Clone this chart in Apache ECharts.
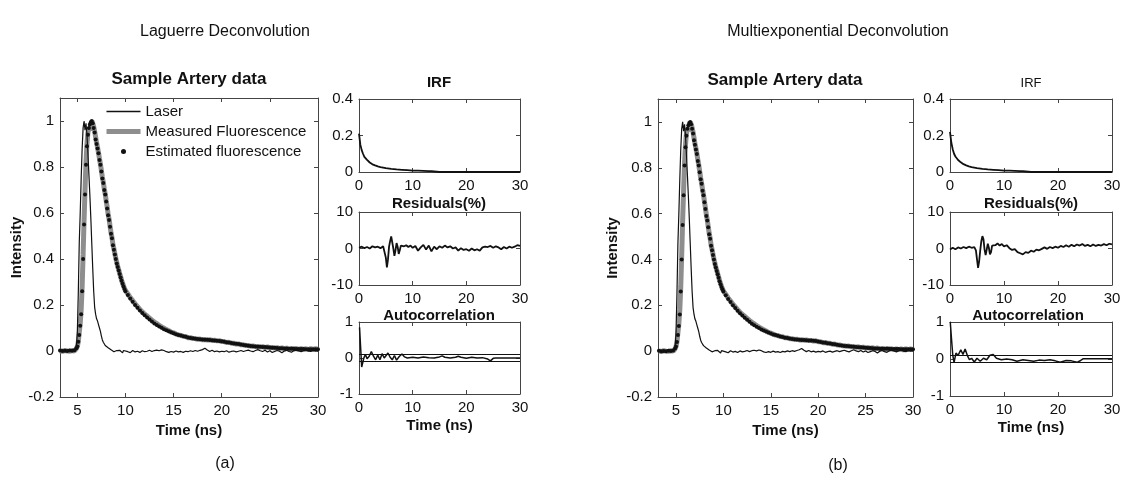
<!DOCTYPE html>
<html>
<head>
<meta charset="utf-8">
<script src="https://cdn.jsdelivr.net/npm/echarts@6/dist/echarts.min.js"></script>
<style>
  html, body { margin: 0; padding: 0; background: #fff; }
  #chart { width: 1124px; height: 477px; }
</style>
</head>
<body>
<div id="chart"></div>
<script>
// sample times (ns) of the main decay plots
const time = [
  3.2, 3.45, 3.7, 3.95, 4.2, 4.45, 4.7, 4.9,
  5.0, 5.1, 5.2, 5.3, 5.4, 5.5, 5.6, 5.7, 5.8, 5.9,
  6.0, 6.1, 6.2, 6.3, 6.4, 6.5, 6.6, 6.7, 6.8, 6.9,
  7.0, 7.1, 7.2, 7.3, 7.4, 7.5, 7.6, 7.7, 7.8, 7.9,
  8.0, 8.1, 8.2, 8.3, 8.4, 8.5, 8.6, 8.7, 8.8, 8.9,
  9.0, 9.1, 9.2, 9.3, 9.4, 9.5, 9.6, 9.7, 9.8, 9.9,
  10.0,
  10.25, 10.5, 10.75, 11.0, 11.25, 11.5, 11.75, 12.0,
  12.25, 12.5, 12.75, 13.0, 13.25, 13.5, 13.75, 14.0,
  14.25, 14.5, 14.75, 15.0, 15.25, 15.5, 15.75, 16.0,
  16.25, 16.5, 16.75, 17.0, 17.25, 17.5, 17.75, 18.0,
  18.25, 18.5, 18.75, 19.0, 19.25, 19.5, 19.75, 20.0,
  20.25, 20.5, 20.75, 21.0, 21.25, 21.5, 21.75, 22.0,
  22.25, 22.5, 22.75, 23.0, 23.25, 23.5, 23.75, 24.0,
  24.25, 24.5, 24.75, 25.0, 25.25, 25.5, 25.75, 26.0,
  26.25, 26.5, 26.75, 27.0, 27.25, 27.5, 27.75, 28.0,
  28.25, 28.5, 28.75, 29.0, 29.25, 29.5, 29.75, 30.0
];
const laser = [
  0, 0.003, -0.002, 0.002, -0.001, 0.002, 0.001, 0.015,
  0.08, 0.25, 0.47, 0.6, 0.75, 0.88, 0.97, 1.0, 0.96, 0.99,
  0.94, 0.86, 0.77, 0.68, 0.58, 0.47, 0.36, 0.26, 0.19, 0.16,
  0.14, 0.13, 0.115, 0.1, 0.085, 0.065, 0.048, 0.038, 0.03, 0.024,
  0.019, 0.016, 0.014, 0.012, 0.008, 0.005, 0.002, 0.0, -0.003, 0.001,
  -0.004, 0.002, -0.006, -0.002, 0.003, -0.005, -0.001, -0.008, 0.002, -0.004,
  0.001,
  -0.003, -0.007, 0.002, -0.004, -0.001, -0.006, 0.001, -0.003,
  -0.001, 0.003, -0.002, 0.002, 0.004, 0.001, 0.005, 0.002,
  -0.003, -0.006, -0.002, -0.005, 0.0, -0.004, -0.002, -0.006,
  -0.001, -0.003, 0.001, -0.002, 0.002, -0.001, 0.003, 0.006,
  0.012, 0.004, -0.002, 0.003, -0.003, 0.0, -0.004, -0.001,
  -0.003, 0.001, -0.005, -0.002, 0.0, -0.004, -0.001, 0.002,
  -0.002, 0.001, 0.004, 0.0, -0.003, 0.002, 0.006, 0.001,
  -0.002, 0.003, -0.004, 0.001, -0.006, -0.002, 0.002, -0.001,
  -0.008, 0.0, 0.003, -0.002, -0.005, 0.002, 0.004, 0.001,
  -0.003, 0.002, 0.005, 0.0, -0.002, 0.003, 0.001, 0.002
];
const measured = [
  0.001, -0.002, 0.002, 0.0, -0.001, 0.002, 0.0, 0.01,
  0.02, 0.04, 0.08, 0.12, 0.18, 0.28, 0.42, 0.57, 0.7, 0.82,
  0.9, 0.95, 0.97, 0.96, 0.98, 1.0, 0.99, 0.975, 0.955, 0.93,
  0.905, 0.885, 0.862, 0.836, 0.812, 0.784, 0.756, 0.733, 0.705, 0.683,
  0.652, 0.626, 0.595, 0.573, 0.543, 0.514, 0.493, 0.463, 0.444, 0.423,
  0.402, 0.384, 0.366, 0.353, 0.337, 0.323, 0.307, 0.295, 0.283, 0.272,
  0.263,
  0.248, 0.232, 0.219, 0.205, 0.193, 0.181, 0.17, 0.16,
  0.152, 0.143, 0.134, 0.126, 0.119, 0.112, 0.105, 0.099,
  0.093, 0.088, 0.082, 0.079, 0.074, 0.07, 0.068, 0.064,
  0.063, 0.058, 0.058, 0.054, 0.054, 0.051, 0.052, 0.049,
  0.05, 0.048, 0.049, 0.046, 0.047, 0.044, 0.045, 0.041,
  0.041, 0.037, 0.038, 0.034, 0.034, 0.03, 0.031, 0.027,
  0.027, 0.024, 0.024, 0.021, 0.022, 0.019, 0.02, 0.017,
  0.019, 0.015, 0.018, 0.013, 0.016, 0.012, 0.015, 0.01,
  0.014, 0.008, 0.013, 0.007, 0.012, 0.008, 0.011, 0.006,
  0.011, 0.006, 0.01, 0.005, 0.011, 0.006, 0.01, 0.007
];
const estimated = [
  0.002, 0, 0.001, 0, 0.002, 0.001, 0.003, 0.012,
  0.02, 0.04, 0.07, 0.11, 0.16, 0.26, 0.4, 0.55, 0.68, 0.81,
  0.89, 0.94, 0.97, 0.985, 0.995, 1.0, 0.99, 0.97, 0.95, 0.92,
  0.9, 0.88, 0.86, 0.83, 0.81, 0.78, 0.75, 0.73, 0.7, 0.68,
  0.65, 0.62, 0.59, 0.57, 0.54, 0.51, 0.49, 0.46, 0.44, 0.42,
  0.4, 0.38, 0.365, 0.35, 0.335, 0.32, 0.305, 0.292, 0.28, 0.27,
  0.26,
  0.244, 0.228, 0.214, 0.2, 0.188, 0.176, 0.165, 0.155,
  0.146, 0.137, 0.128, 0.12, 0.113, 0.107, 0.101, 0.095,
  0.09, 0.086, 0.081, 0.077, 0.073, 0.07, 0.067, 0.064,
  0.062, 0.059, 0.057, 0.055, 0.053, 0.052, 0.051, 0.05,
  0.049, 0.049, 0.048, 0.047, 0.046, 0.045, 0.044, 0.042,
  0.04, 0.038, 0.037, 0.035, 0.033, 0.031, 0.03, 0.028,
  0.026, 0.025, 0.023, 0.022, 0.021, 0.02, 0.019, 0.018,
  0.017, 0.017, 0.016, 0.015, 0.014, 0.014, 0.013, 0.012,
  0.012, 0.011, 0.011, 0.01, 0.01, 0.01, 0.009, 0.009,
  0.009, 0.009, 0.008, 0.008, 0.008, 0.008, 0.008, 0.008
];

// IRF panels
const irfTime = [0, 0.25, 0.5, 0.75, 1, 1.5, 2, 2.5, 3, 3.5, 4, 5, 6, 7, 8, 9, 10, 11, 12, 13, 13.5, 13.6, 15, 20, 25, 30];
const irfA = [0.21, 0.15, 0.12, 0.1, 0.083, 0.066, 0.052, 0.042, 0.036, 0.031, 0.027, 0.021, 0.017, 0.014, 0.012, 0.01, 0.008, 0.007, 0.006, 0.005, 0.005, 0, 0, 0, 0, 0];
const irfB = [0.22, 0.16, 0.125, 0.1, 0.085, 0.066, 0.053, 0.043, 0.036, 0.031, 0.027, 0.021, 0.017, 0.014, 0.012, 0.01, 0.008, 0.007, 0.006, 0.005, 0.005, 0, 0, 0, 0, 0];

// residuals (%)
const residTime = [
  0, 0.5, 1, 1.5, 2, 2.5, 3, 3.5, 4, 4.5, 4.8,
  5.0, 5.2, 5.4, 5.6, 5.8, 6.0, 6.2, 6.4, 6.6, 6.8, 7.0, 7.2, 7.4, 7.6, 7.8, 8.0,
  8.4, 8.8, 9.2, 9.6,
  10, 10.5, 11, 11.5, 12, 12.5, 13, 13.5, 14, 14.5, 15, 15.5, 16, 16.5, 17, 17.5,
  18, 18.5, 19, 19.5, 20, 20.5, 21, 21.5, 22, 22.5, 23, 23.5, 24, 24.5, 25, 25.5,
  26, 26.5, 27, 27.5, 28, 28.5, 29, 29.5, 30
];
const residA = [
  0.2, 0.5, 0.1, 0.4, 0.0, 0.6, 0.3, 0.5, 0.1, 0.6, 0.2,
  -2.5, -5.2, -3.0, 0.5, 2.0, 3.3, 2.8, 0.0, -2.0, -0.5, 1.5, 0.5, -1.5, -0.5, 0.8, 1.2,
  0.6, 0.9, 0.4, 0.8,
  0.2, 0.7, -0.6, 0.3, 1.0, -0.3, 0.8, -0.8, 0.5, -0.2, 0.6, 0.2, 0.8, 0.3, 0.6, 0.0,
  0.3, -0.6, 0.1, -0.4, -0.2, -0.6, 0.0, -0.5, -0.2, -0.6, 0.3, 0.5, 0.4, 0.7, 0.2, 0.6,
  0.3, -0.2, 0.4, 0.0, 0.5, 0.2, 0.5, 0.9, 0.7
];
const residB = [
  -0.3, 0.2, -0.2, 0.3, 0.0, 0.4, 0.1, 0.5, 0.2, 0.4, -0.5,
  -3.0, -5.3, -3.5, -0.5, 2.0, 3.4, 2.5, -0.3, -1.8, -0.3, 1.3, 0.2, -1.6, -1.0, 0.8, 1.3,
  0.9, 1.4, 0.8, 1.2,
  0.6, 0.9, 0.1, -0.4, -0.2, -1.0, -1.3, -1.6, -1.0, -1.2, -0.6, -0.9, -0.3, -0.5, -0.1, 0.3,
  -0.1, 0.4, 0.1, 0.5, 0.2, 0.7, 0.4, 0.9, 0.5, 1.0, 0.6, 1.1, 0.8, 1.2, 0.7, 1.0,
  0.6, 1.1, 0.7, 1.0, 0.8, 1.2, 0.9, 1.3, 1.1
];

// autocorrelation of residuals
const autoTimeA = [0.1, 0.3, 0.5, 0.7, 0.9, 1.2, 1.5, 1.9, 2.3, 2.7, 3.1, 3.5, 3.9, 4.3, 4.7, 5.0, 5.4, 5.8, 6.2, 6.6, 7.0, 7.5, 8.0, 8.5, 9, 10, 11, 12, 13, 14, 15, 15.5, 16, 17, 18, 18.5, 19, 20, 21, 22, 23, 24, 24.5, 25, 25.5, 30];
const autoA = [0.85, 0.3, -0.25, -0.3, 0.0, 0.1, -0.02, 0.05, 0.18, 0.05, -0.05, 0.08, -0.05, 0.12, 0.0, -0.04, 0.14, 0.02, -0.05, 0.07, -0.06, 0.04, 0.11, 0.03, 0.0, 0.02, 0.0, 0.03, 0.01, 0.0, 0.03, 0.06, 0.02, 0.0, 0.02, 0.05, 0.02, -0.01, 0.02, 0.0, 0.01, -0.03, -0.08, -0.01, 0.0, 0.0];
const autoTimeB = [0.05, 0.3, 0.5, 0.75, 1.1, 1.5, 2.0, 2.4, 2.8, 3.2, 3.6, 4.0, 4.5, 5.0, 5.6, 6.2, 6.8, 7.4, 8.0, 8.6, 9.5, 10.5, 11.5, 12.4, 13.5, 14.5, 15.5, 16.5, 17.5, 18.5, 19.5, 20.4, 21.5, 22.5, 23.5, 24.2, 24.7, 30];
const autoB = [1.0, 0.5, 0.12, -0.1, 0.16, 0.1, 0.25, 0.12, 0.27, 0.1, -0.02, 0.02, -0.08, 0.02, -0.06, 0.02, -0.02, 0.1, 0.12, 0.02, -0.02, 0.0, -0.02, -0.06, -0.02, -0.04, -0.06, -0.03, -0.04, -0.02, -0.05, -0.09, -0.04, -0.05, -0.09, -0.04, 0.01, 0.01];
const autoBounds = [0.1, -0.1];

// tick labels
const mainXTicks = [5, 10, 15, 20, 25, 30];
const mainYTicks = [-0.2, 0, 0.2, 0.4, 0.6, 0.8, 1];
const smallXTicks = [0, 10, 20, 30];
const irfTicks = [0, 0.2, 0.4];
const residTicks = [-10, 0, 10];
const autoTicks = [-1, 0, 1];

const FONT = "'Liberation Sans', Arial, sans-serif";
const AXIS_COLOR = "#444";
const INK = "#111";
const GRAY = "#8e8e8e";

const zip = (xs, ys) => xs.map((x, i) => [x, ys[i]]);

const grids = [
  { left: 60, top: 98, width: 258, height: 299 },
  { left: 359, top: 99, width: 161, height: 73 },
  { left: 359, top: 212, width: 161, height: 73 },
  { left: 359, top: 322, width: 161, height: 72 },
  { left: 658, top: 99, width: 255, height: 298 },
  { left: 950, top: 99, width: 162, height: 73 },
  { left: 950, top: 212, width: 162, height: 73 },
  { left: 950, top: 322, width: 162, height: 74 },
];

function axis(gridIndex, position, min, max, ticks, extra) {
  const labelled = position === "bottom" || position === "left";
  return Object.assign({
    type: "value",
    gridIndex: gridIndex,
    position: position,
    min: min,
    max: max,
    axisLine: { show: true, onZero: false, lineStyle: { color: AXIS_COLOR, width: 1 } },
    axisTick: { show: true, inside: true, length: 4, customValues: ticks, lineStyle: { color: AXIS_COLOR } },
    axisLabel: { show: labelled, customValues: ticks, margin: 6, color: INK, fontSize: 15, fontFamily: FONT },
    splitLine: { show: false },
  }, extra || {});
}

const nameStyle = { color: INK, fontSize: 15, fontWeight: "bold", fontFamily: FONT };

const xAxes = [];
const yAxes = [];
function addAxes(g, xr, xt, yr, yt, xName, xGap, yName, yGap) {
  xAxes.push(axis(g, "bottom", xr[0], xr[1], xt, xName ? { name: xName, nameLocation: "middle", nameGap: xGap, nameTextStyle: nameStyle } : {}));
  xAxes.push(axis(g, "top", xr[0], xr[1], xt));
  yAxes.push(axis(g, "left", yr[0], yr[1], yt, yName ? { name: yName, nameLocation: "middle", nameGap: yGap, nameRotate: 90, nameTextStyle: nameStyle } : {}));
  yAxes.push(axis(g, "right", yr[0], yr[1], yt));
}

addAxes(0, [3.2, 30], mainXTicks, [-0.2, 1.1], mainYTicks, "Time (ns)", 20, "Intensity", 30);
addAxes(1, [0, 30], smallXTicks, [0, 0.4], irfTicks);
addAxes(2, [0, 30], smallXTicks, [-10, 10], residTicks);
addAxes(3, [0, 30], smallXTicks, [-1, 1], autoTicks, "Time (ns)", 24);
addAxes(4, [3.1, 30], mainXTicks, [-0.2, 1.1], mainYTicks, "Time (ns)", 20, "Intensity", 38);
addAxes(5, [0, 30], smallXTicks, [0, 0.4], irfTicks);
addAxes(6, [0, 30], smallXTicks, [-10, 10], residTicks);
addAxes(7, [0, 30], smallXTicks, [-1, 1], autoTicks, "Time (ns)", 24);

function onGrid(g) {
  return { xAxisIndex: 2 * g, yAxisIndex: 2 * g };
}

function mainSeries(g) {
  return [
    Object.assign({
      name: "Measured Fluorescence", type: "line", data: zip(time, measured), z: 2,
      symbol: "none", lineStyle: { color: GRAY, width: 5 }, itemStyle: { color: GRAY },
    }, onGrid(g)),
    Object.assign({
      name: "Laser", type: "line", data: zip(time, laser), z: 3,
      symbol: "none", lineStyle: { color: INK, width: 1.2 }, itemStyle: { color: INK },
    }, onGrid(g)),
    Object.assign({
      name: "Estimated fluorescence", type: "scatter", data: zip(time, estimated), z: 6,
      symbol: "circle", symbolSize: 4, itemStyle: { color: INK, opacity: 1 },
    }, onGrid(g)),
  ];
}

function traceSeries(g, xs, ys, width) {
  return Object.assign({
    type: "line", data: zip(xs, ys), symbol: "none",
    lineStyle: { color: INK, width: width }, itemStyle: { color: INK },
  }, onGrid(g));
}

function autoSeries(g, xs, ys) {
  const s = traceSeries(g, xs, ys, 1.5);
  s.markLine = {
    silent: true, symbol: "none", label: { show: false },
    lineStyle: { color: INK, width: 1, type: "solid" },
    data: autoBounds.map(v => ({ yAxis: v })),
  };
  return s;
}

const series = [].concat(
  mainSeries(0),
  [traceSeries(1, irfTime, irfA, 1.8)],
  [traceSeries(2, residTime, residA, 1.8)],
  [autoSeries(3, autoTimeA, autoA)],
  mainSeries(4),
  [traceSeries(5, irfTime, irfB, 1.8)],
  [traceSeries(6, residTime, residB, 1.8)],
  [autoSeries(7, autoTimeB, autoB)]
);

function title(text, left, top, size, bold) {
  return {
    text: text, left: left, top: top, textAlign: "center", padding: 0,
    textStyle: { color: INK, fontSize: size, fontWeight: bold ? "bold" : "normal", fontFamily: FONT },
  };
}

const chart = echarts.init(document.getElementById("chart"));
chart.setOption({
  animation: false,
  backgroundColor: "#fff",
  title: [
    title("Laguerre Deconvolution", 225, 24, 16, false),
    title("Multiexponential Deconvolution", 838, 24, 16, false),
    title("(a)", 225, 456, 16, false),
    title("(b)", 838, 458, 16, false),
    title("Sample Artery data", 189, 71, 17, true),
    title("Sample Artery data", 785, 72, 17, true),
    title("IRF", 439, 75, 15, true),
    title("IRF", 1031, 77, 13, false),
    title("Residuals(%)", 439, 196, 15, true),
    title("Residuals(%)", 1031, 196, 15, true),
    title("Autocorrelation", 439, 308, 15, true),
    title("Autocorrelation", 1028, 308, 15, true),
  ],
  legend: {
    data: [
      { name: "Laser", itemStyle: { opacity: 0 }, lineStyle: { color: INK, width: 1.5 } },
      { name: "Measured Fluorescence", itemStyle: { opacity: 0 }, lineStyle: { color: GRAY, width: 5 } },
      { name: "Estimated fluorescence" },
    ],
    orient: "vertical",
    left: 104,
    top: 104,
    padding: 0,
    itemWidth: 34,
    itemHeight: 5,
    itemGap: 5,
    selectedMode: false,
    textStyle: { color: INK, fontSize: 15, fontFamily: FONT },
  },
  grid: grids,
  xAxis: xAxes,
  yAxis: yAxes,
  series: series,
});
</script>
</body>
</html>
